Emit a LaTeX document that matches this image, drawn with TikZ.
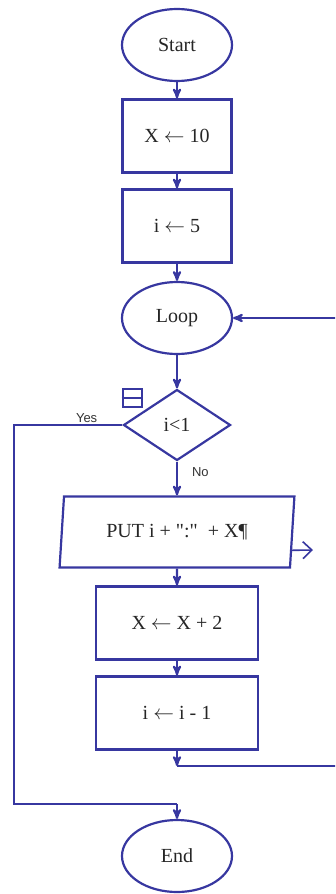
\documentclass[tikz,border=0pt]{standalone}
\usepackage{fontspec}
\setmainfont{Liberation Serif}
\newfontfamily\yesnofont{Liberation Sans}
\usetikzlibrary{arrows,arrows.meta,shapes.geometric,positioning,calc}
\definecolor{flowblue}{RGB}{55,55,160}

\begin{document}
\begin{tikzpicture}[x=1pt,y=1pt,->,>=stealth',line width=2.2pt,draw=flowblue,
    flow node/.style={draw=flowblue,line width=2.2pt,inner sep=0pt,text=black!85,font=\fontsize{20}{24}\selectfont},
    terminal/.style={flow node,ellipse,minimum width=110pt,minimum height=72pt},
    process/.style={flow node,rectangle,minimum height=73pt},
    decision/.style={flow node,diamond,minimum width=107pt,minimum height=71pt},
    io/.style={flow node,trapezium,trapezium left angle=80,trapezium right angle=100,
        trapezium stretches=true,minimum width=235pt,minimum height=71pt},
    branch/.style={font=\yesnofont\fontsize{13}{15}\selectfont,text=black!80,inner sep=1pt}]

  \useasboundingbox (0,0) rectangle (335,-894);
  \clip (0,0) rectangle (335,-894);

  \node[terminal] (start) at (177,-45) {Start};
  \node[process,minimum width=109pt] (setx) [below of=start,node distance=91pt] {X $\leftarrow$ 10};
  \node[process,minimum width=109pt] (seti) [below of=setx,node distance=90pt] {i $\leftarrow$ 5};
  \node[terminal] (loop) [below of=seti,node distance=92pt] {Loop};
  \node[decision] (cond) [below of=loop,node distance=107pt] {i<1};
  \node[io] (put) [below of=cond,node distance=107pt] {PUT i + \textquotedbl:\textquotedbl\ \ + X¶};
  \node[process,minimum width=162pt] (incx) [below of=put,node distance=91pt] {X $\leftarrow$ X + 2};
  \node[process,minimum width=162pt] (deci) [below of=incx,node distance=90pt] {i $\leftarrow$ i - 1};
  \node[terminal] (end) [below of=deci,node distance=143pt] {End};

  % collapse box beside the decision
  \node[draw=flowblue,line width=2pt,minimum width=19pt,minimum height=18pt,inner sep=0pt] (fold) at (132,-397.5) {};
  \draw[-,line width=2pt] (fold.west) -- (fold.east);

  \coordinate (railL) at (14,0);
  \coordinate (railR) at (345,0);
  \coordinate (back) at (177,-766);
  \coordinate (joinE) at (177,-804);
  \coordinate (outtip) at (313,-550);

  \path (start) edge (setx)
        (setx) edge (seti)
        (seti) edge (loop)
        (loop) edge (cond)
        (cond) edge node[branch,right=13pt,pos=0.32] {No} (put)
        (put) edge (incx)
        (incx) edge (deci)
        (deci) edge (back);

  \draw[-] (cond.west) -- node[branch,above,pos=0.33] {Yes} (cond.west -| railL) |- (joinE);
  \draw (joinE) -- (end.north);
  \draw (back) -- (back -| railR) |- (loop.east);
  \draw[-{Straight Barb[length=9pt,width=17pt]},line width=1.6pt]
    ($(put.bottom right corner)!0.25!(put.top right corner)$) -- (outtip);
\end{tikzpicture}
\end{document}
